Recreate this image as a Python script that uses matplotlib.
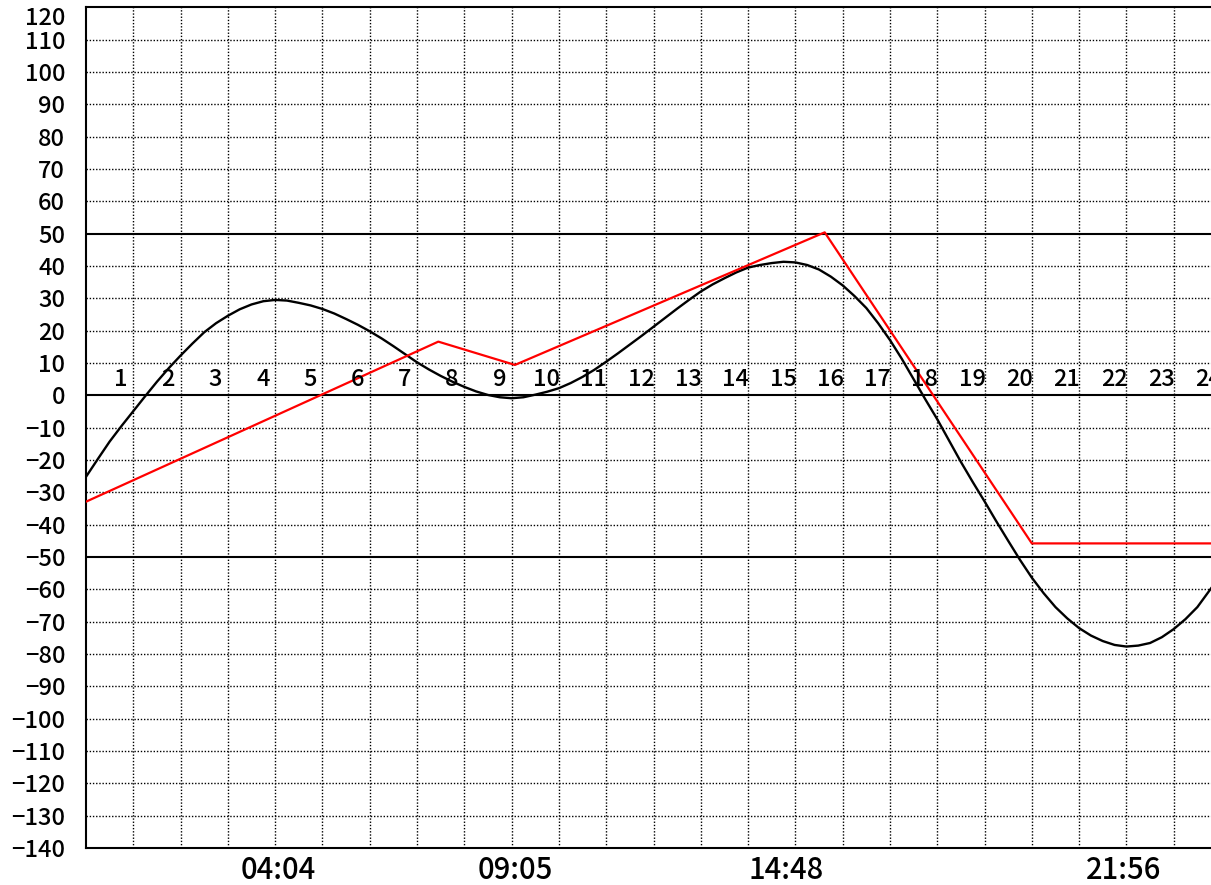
import matplotlib
matplotlib.use('Agg')
import matplotlib.pyplot as plt
import numpy as np

plt.rcParams['font.family'] = ['Noto Sans CJK JP', 'DejaVu Sans']
plt.rcParams['font.weight'] = 'medium'

# tide level, read every quarter hour
tide_hours = np.arange(0, 24.25, 0.25)
tide_level = [-25.2, -19.7, -14.3, -9.5, -4.9, -0.3, 4.2, 8.4,
              12.3, 16.0, 19.5, 22.3, 24.6, 26.6, 28.1, 29.1,
              29.5, 29.3, 28.6, 27.8, 26.7, 25.3, 23.6, 21.8,
              19.8, 17.6, 15.2, 12.7, 10.2, 8.0, 6.0, 4.2,
              2.6, 1.2, 0.1, -0.6, -0.9, -0.6, 0.2, 1.1,
              2.2, 3.8, 5.7, 7.9, 10.4, 13.0, 15.7, 18.4,
              21.2, 24.0, 26.8, 29.5, 32.1, 34.3, 36.2, 38.0,
              39.5, 40.3, 40.9, 41.3, 41.1, 40.3, 38.9, 36.7,
              34.0, 30.7, 27.0, 22.3, 17.1, 11.3, 5.0, -1.3,
              -7.4, -14.0, -20.6, -26.8, -32.8, -39.0, -45.0, -50.9,
              -56.4, -61.2, -65.5, -69.0, -72.0, -74.3, -76.0, -77.2,
              -77.7, -77.4, -76.6, -74.8, -72.3, -69.2, -65.5, -60.5,
              -55.5]

# red polyline
red_hours = [0, 7.45, 9.07, 15.62, 20.0, 24]
red_level = [-32.9, 16.6, 9.4, 50.4, -45.8, -45.8]

hour_marks = list(range(1, 25))
tide_times = ['04:04', '09:05', '14:48', '21:56']
ref_levels = [50, 0, -50]

fig = plt.figure(figsize=(12.11, 8.85), dpi=100)
ax = fig.add_axes([86 / 1211, 37 / 885, 1135 / 1211, 840.7 / 885])

ax.set_xlim(0, 24)
ax.set_ylim(-140, 120)

grid_kw = dict(color='black', lw=1.0, linestyle=(0, (1, 1.3)), zorder=1)
for h in range(1, 24):
    ax.axvline(h, **grid_kw)
for v in range(-130, 120, 10):
    if v not in ref_levels:
        ax.axhline(v, **grid_kw)
for v in ref_levels:
    ax.axhline(v, color='black', lw=1.5, zorder=2)

ax.plot(tide_hours, tide_level, color='black', lw=1.7, zorder=3)
ax.plot(red_hours, red_level, color='red', lw=1.6, zorder=4)

for n in hour_marks:
    ax.text(n - 0.26, 5, str(n), ha='center', va='center', fontsize=17,
            zorder=5)

tick_pos = [int(t[:2]) + int(t[3:]) / 60 for t in tide_times]
ax.set_xticks(tick_pos)
ax.set_xticklabels(tide_times, fontsize=21)
ax.set_yticks(range(-140, 121, 10))
ax.set_yticklabels([str(v).replace('-', '\u2212') for v in range(-140, 121, 10)],
                   fontsize=17)
ax.get_yticklabels()[-1].set_va('top')
ax.tick_params(axis='both', length=0)
ax.tick_params(axis='y', pad=15)
ax.tick_params(axis='x', pad=5)

for s in ['left', 'top', 'bottom']:
    ax.spines[s].set_linewidth(1.5)
ax.spines['right'].set_visible(False)

fig.savefig('out.png', dpi=100)
